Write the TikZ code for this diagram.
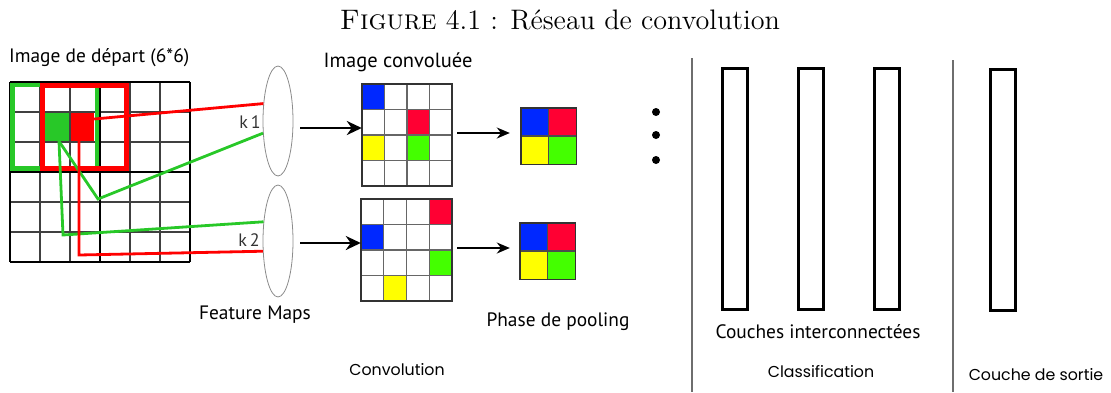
\documentclass[tikz,border=0pt]{standalone}
\usepackage{fontspec}
\newfontfamily\myr{PT Sans}
\newfontfamily\geo{Poppins}
\usetikzlibrary{shapes.geometric,arrows.meta}
\definecolor{cblue}{RGB}{0,40,255}
\definecolor{cred}{RGB}{255,0,51}
\definecolor{cyel}{RGB}{255,255,0}
\definecolor{cgreen}{RGB}{68,255,0}
\definecolor{kgreen}{RGB}{40,200,40}
\definecolor{kred}{RGB}{255,0,0}
\definecolor{sepgray}{RGB}{110,110,110}
\tikzset{
  lbl/.style={font=\myr\fontsize{19.4}{22}\selectfont, inner sep=0pt},
  glbl/.style={font=\geo\fontsize{15.8}{18}\selectfont, inner sep=0pt},
  kern/.style={ellipse, draw=black!45, fill=white, line width=0.8pt, minimum width=30pt, minimum height=110pt, inner sep=0pt},
  cellfill/.style={inner sep=0pt, draw=none},
  area/.style={inner sep=0pt, draw=none},
  layer/.style={draw=black, line width=3pt, inner sep=0pt, minimum width=25pt, minimum height=241pt},
  bigarrow/.style={line width=2.8pt, -{Stealth[length=15pt,width=14pt]}},
  smallarrow/.style={line width=2pt, -{Stealth[length=13pt,width=11pt]}},
  conn/.style={line width=2.8pt},
  thin grid/.style={draw=black!75, line width=1.4pt},
}
\begin{document}
\begin{tikzpicture}[x=1pt,y=-1pt]
\useasboundingbox (0,0) rectangle (1111,392);
% title
\node[inner sep=0pt, anchor=base, scale=2.35, font=\fontsize{12}{14}\selectfont] (title) at (560,29) {\textsc{Figure} 4.1 : Réseau de convolution};
% labels
\node[lbl, anchor=west] (lstart) at (9,58) {Image de départ (6*6)};
\node[lbl, font=\myr\fontsize{20.5}{22}\selectfont] (lconv) at (398,62) {Image convoluée};
\node[lbl] (lfm) at (255,315) {Feature Maps};
\node[lbl] (lpool) at (558,322) {Phase de pooling};
\node[lbl] (lcouches) at (818,332) {Couches interconnectées};
\node[glbl] (lconvo) at (397,370) {Convolution};
\node[glbl] (lclass) at (821,372) {Classification};
\node[glbl] (lsortie) at (1036,375) {Couche de sortie};

% ---- input grid 6x6
\node[area, minimum width=180pt, minimum height=180pt] (g1) at (100,172) {};
\node[cellfill, fill=kgreen, minimum width=26pt, minimum height=28pt] (gc) at (57,127) {};
\node[cellfill, fill=kred, minimum width=24pt, minimum height=28pt] (rc) at (82,127) {};
\foreach \i in {1,2,4,5} {
  \draw[thin grid] (10+30*\i,82) -- (10+30*\i,262);
  \draw[thin grid] (10,82+30*\i) -- (190,82+30*\i);
}
\foreach \i in {0,3,6} {
  \draw[black, line width=2.2pt] (10+30*\i,82) -- (10+30*\i,262);
  \draw[black, line width=2.2pt] (10,82+30*\i) -- (190,82+30*\i);
}
\draw[kgreen, line width=4.5pt] (12.5,85) rectangle (97,168.5);
\draw[kred, line width=5pt] (42,85) rectangle (126,168.5);

% ---- kernels
\node[kern] (e1) at (278,121) {};
\node[kern, minimum height=112pt] (e2) at (278,241) {};
\node[lbl, font=\myr\fontsize{18}{18}\selectfont, text=black!80] (k1) at (250,122) {k\,1};
\node[lbl, font=\myr\fontsize{18}{18}\selectfont, text=black!80] (k2) at (249,240) {k\,2};

% connectors
\coordinate (b1) at (98,199);
\coordinate (b2) at (63,235);
\coordinate (b3) at (79,255);
\draw[conn, kred] ([yshift=8pt]rc.east) -- (e1.130);
\draw[conn, kgreen, line join=miter] ([xshift=2pt]gc.south) -- (b1) -- (e1.219);
\draw[conn, kgreen, line join=miter] ([xshift=2pt]gc.south) -- (b2) -- (e2.127);
\draw[conn, kred, line join=miter] ([xshift=-3pt]rc.south) -- (b3) -- (e2.214);

% ---- convolved grids 4x4
\node[area, minimum width=90pt, minimum height=102pt] (cg1) at (407,135) {};
\node[area, minimum width=91pt, minimum height=102pt] (cg2) at (406.5,250) {};
\begin{scope}[shift={(362,84)}]
  \fill[cblue] (0,0) rectangle (22.5,25.5);
  \fill[cred] (45,25.5) rectangle (67.5,51);
  \fill[cyel] (0,51) rectangle (22.5,76.5);
  \fill[cgreen] (45,51) rectangle (67.5,76.5);
  \foreach \i in {1,2,3} {
    \draw[black!60, line width=1.2pt] (22.5*\i,0) -- (22.5*\i,102);
    \draw[black!60, line width=1.2pt] (0,25.5*\i) -- (90,25.5*\i);
  }
  \draw[black!80, line width=1.6pt] (0,0) rectangle (90,102);
\end{scope}
\begin{scope}[shift={(361,199)}]
  \fill[cred] (68.25,0) rectangle (91,25.5);
  \fill[cblue] (0,25.5) rectangle (22.75,51);
  \fill[cgreen] (68.25,51) rectangle (91,76.5);
  \fill[cyel] (22.75,76.5) rectangle (45.5,102);
  \foreach \i in {1,2,3} {
    \draw[black!60, line width=1.2pt] (22.75*\i,0) -- (22.75*\i,102);
    \draw[black!60, line width=1.2pt] (0,25.5*\i) -- (91,25.5*\i);
  }
  \draw[black!80, line width=1.6pt] (0,0) rectangle (91,102);
\end{scope}

% ---- pooled grids 2x2
\node[area, minimum width=55pt, minimum height=56pt] (pg1) at (548.5,136) {};
\node[area, minimum width=55pt, minimum height=56pt] (pg2) at (547.5,251) {};
\foreach \n in {pg1,pg2} {
  \fill[cblue] (\n.north west) rectangle (\n.center);
  \fill[cred] (\n.north) rectangle (\n.east);
  \fill[cyel] (\n.west) rectangle (\n.south);
  \fill[cgreen] (\n.center) rectangle (\n.south east);
  \draw[black!70, line width=1.2pt] (\n.north) -- (\n.south) (\n.west) -- (\n.east);
  \draw[black!80, line width=1.4pt] (\n.north west) rectangle (\n.south east);
}

% ---- arrows
\draw[bigarrow] ([xshift=7pt,yshift=-7pt]e1.east) -- ([yshift=7pt]cg1.west);
\draw[bigarrow] ([xshift=7pt,yshift=-2pt]e2.east) -- ([yshift=7pt]cg2.west);
\draw[smallarrow] ([xshift=5pt,yshift=2pt]cg1.east) -- ([xshift=-11pt,yshift=3pt]pg1.west);
\draw[smallarrow] ([xshift=5pt,yshift=2pt]cg2.east) -- ([xshift=-10pt,yshift=3pt]pg2.west);

% ---- dots
\fill (656,112) circle (4pt);
\fill (656,135) circle (4pt);
\fill (656,160) circle (4pt);

% ---- separators
\coordinate (s1t) at (692,58);
\coordinate (s1b) at (692,392);
\coordinate (s2t) at (953,60);
\coordinate (s2b) at (953,392);
\draw[sepgray, line width=1.6pt] (s1t) -- (s1b);
\draw[sepgray, line width=1.6pt] (s2t) -- (s2b);

% ---- fully connected layers
\node[layer] (fc1) at (734.5,188.5) {};
\node[layer] (fc2) at (810.5,188.5) {};
\node[layer] (fc3) at (886.5,188.5) {};
\node[layer] (out) at (1002.5,190) {};
\end{tikzpicture}
\end{document}
